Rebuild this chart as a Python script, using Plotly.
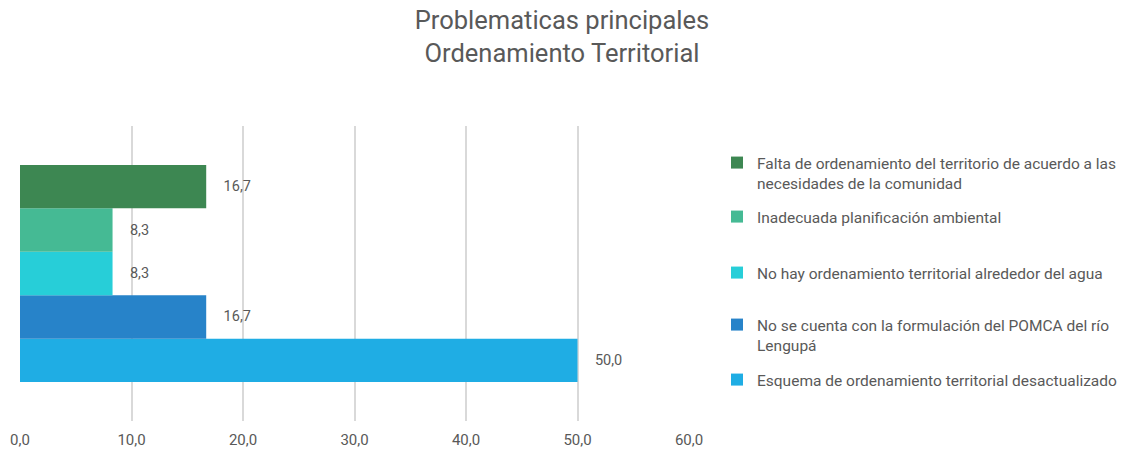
import plotly.graph_objects as go

categories = ["Ordenamiento Territorial"]
series_names = [
    "Esquema de ordenamiento territorial desactualizado",
    "No se cuenta con la formulación del POMCA del río<br>Lengupá",
    "No hay ordenamiento territorial alrededor del agua",
    "Inadecuada planificación ambiental",
    "Falta de ordenamiento del territorio de acuerdo a las<br>necesidades de la comunidad",
]
series_values = [50.0, 16.7, 8.3, 8.3, 16.7]
series_colors = ["#1FADE4", "#2783C9", "#27CED8", "#45BA94", "#3D8752"]
tick_values = [0, 10, 20, 30, 40, 50, 60]

FONT = "Roboto"
GREY = "#595959"

W, H = 1124, 454
L, R, T, B = 20, 435, 126, 33
plot_h = H - T - B

# legend first-line vertical centres in pixels (top of figure = 0)
legend_px = [381, 326, 274, 218, 164]

fig = go.Figure()
legend_names = ["legend", "legend2", "legend3", "legend4", "legend5"]
pad = "\u00a0" * 4
for name, val, col, lg in zip(series_names, series_values, series_colors, legend_names):
    fig.add_trace(go.Bar(
        y=categories, x=[val], name=name, orientation="h",
        marker=dict(color=col, line=dict(width=0)),
        text=[val], texttemplate=pad + "%{x:.1f}", textposition="outside",
        textfont=dict(family=FONT, size=14.5, color=GREY),
        cliponaxis=False, legend=lg,
    ))

layout_legends = {}
for lg, py in zip(legend_names, legend_px):
    layout_legends[lg] = dict(
        x=(717 - L) / (W - L - R), xanchor="left", xref="paper",
        y=(H - B - py + 18) / plot_h, yanchor="top", yref="paper",
        font=dict(family=FONT, size=15.5, color=GREY),
        bgcolor="rgba(0,0,0,0)", borderwidth=0, valign="top",
    )

fig.update_layout(
    width=W, height=H,
    margin=dict(l=L, r=R, t=T, b=B, autoexpand=False),
    paper_bgcolor="white", plot_bgcolor="white",
    separators=",.",
    barmode="group", bargap=0.264, bargroupgap=0,
    showlegend=True,
    title=dict(
        text="Problematicas principales<br>Ordenamiento Territorial",
        x=0.5, xref="container", xanchor="center",
        y=1 - 29 / H, yref="container", yanchor="middle",
        font=dict(family=FONT, size=25.5, color=GREY),
    ),
    xaxis=dict(
        range=[0, 60], tickvals=tick_values, tickformat=".1f",
        showgrid=True, gridcolor="#D9D9D9", gridwidth=1.5,
        zeroline=False, showline=False, ticks="",
        tickfont=dict(family=FONT, size=15, color=GREY),
        ticklabelstandoff=8, automargin=False,
    ),
    yaxis=dict(showticklabels=False, showgrid=False, zeroline=False,
               showline=False, ticks="", automargin=False),
    **layout_legends,
)

fig.write_html("out.html", config={"displayModeBar": False},
               post_script="document.body.style.margin='0';")
